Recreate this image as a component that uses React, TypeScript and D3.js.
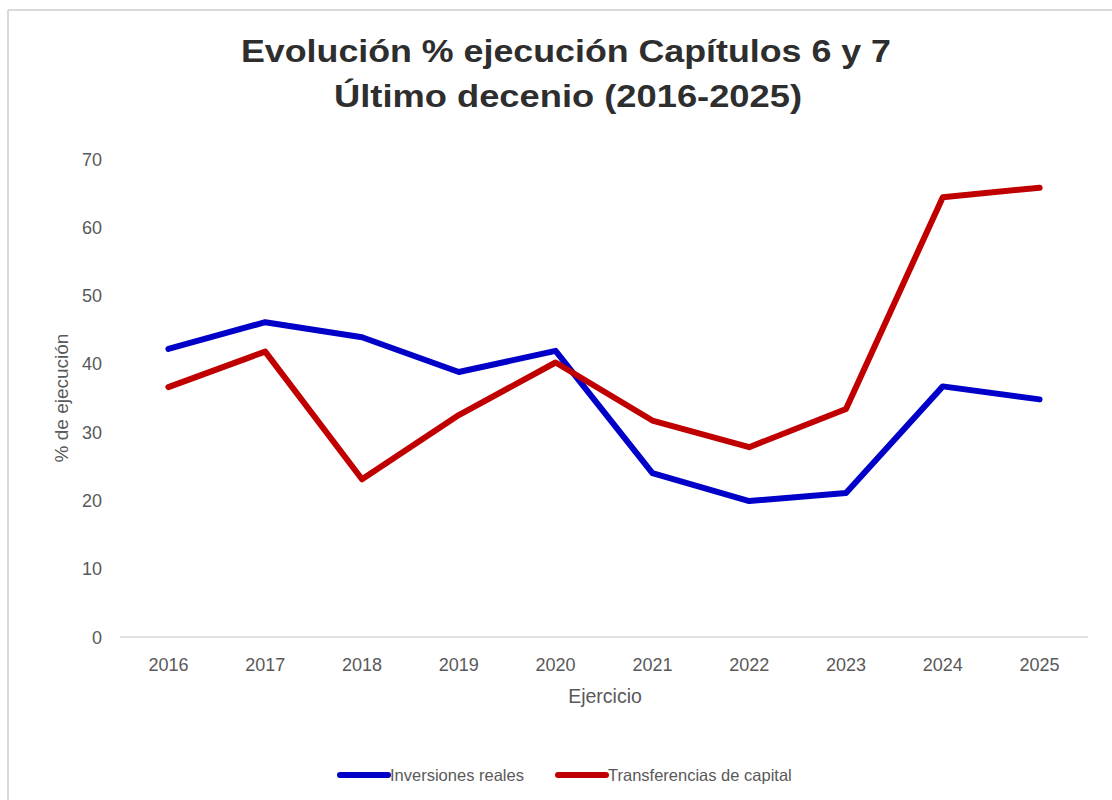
import React from 'react'
import * as d3 from 'd3'

const years = ['2016', '2017', '2018', '2019', '2020', '2021', '2022', '2023', '2024', '2025']
const inversionesReales = [42.2, 46.1, 43.9, 38.8, 41.9, 24.0, 19.9, 21.1, 36.7, 34.8]
const transferenciasCapital = [36.6, 41.8, 23.1, 32.5, 40.2, 31.7, 27.8, 33.4, 64.4, 65.8]
const yTicks = [0, 10, 20, 30, 40, 50, 60, 70]
const seriesNames = ['Inversiones reales', 'Transferencias de capital']

const WIDTH = 1112
const HEIGHT = 800
const plot = { left: 120, right: 1088, top: 159, bottom: 637 }
const colors = ['#0000c8', '#c00000']
const grey = '#595959'
const font = '"Liberation Sans", Arial, sans-serif'

const App = () => {
    const xScale = d3.scaleBand().domain(years).range([plot.left, plot.right])
    const bw = xScale.bandwidth()
    const yScale = d3.scaleLinear().domain([0, 70]).range([plot.bottom, plot.top])

    const line = d3
        .line<number>()
        .x((d, i) => (xScale(years[i]) as number) + bw / 2)
        .y(d => yScale(d))

    const series = [inversionesReales, transferenciasCapital]

    // leyenda
    const legend = [
        { x: 340, name: seriesNames[0], color: colors[0] },
        { x: 558, name: seriesNames[1], color: colors[1] },
    ]

    return (
        <svg width={WIDTH} height={HEIGHT} style={{ position: 'absolute', left: 0, top: 0, background: '#fff' }}>
            <rect x={0} y={0} width={WIDTH} height={HEIGHT} fill="#fff" />
            {/* marco */}
            <line x1={8} y1={10} x2={WIDTH} y2={10} stroke="#d9d9d9" strokeWidth={2} />
            <line x1={8} y1={10} x2={8} y2={HEIGHT} stroke="#d9d9d9" strokeWidth={2} />

            {/* título */}
            <g fontFamily={font} fontWeight="bold" fontSize={31} fill="#2e2e2e" textAnchor="middle">
                <text x={566} y={62} textLength={650} lengthAdjust="spacingAndGlyphs">
                    Evolución % ejecución Capítulos 6 y 7
                </text>
                <text x={568} y={107} textLength={468} lengthAdjust="spacingAndGlyphs">
                    Último decenio (2016-2025)
                </text>
            </g>

            {/* eje x */}
            <line x1={plot.left} y1={plot.bottom} x2={plot.right} y2={plot.bottom} stroke="#d9d9d9" strokeWidth={1.5} />
            <g fontFamily={font} fontSize={18} fill={grey} textAnchor="middle">
                {years.map(yr => (
                    <text key={yr} x={(xScale(yr) as number) + bw / 2} y={671}>
                        {yr}
                    </text>
                ))}
            </g>
            <text x={605} y={703} fontFamily={font} fontSize={19.5} fill={grey} textAnchor="middle">
                Ejercicio
            </text>

            {/* eje y */}
            <g fontFamily={font} fontSize={18} fill={grey} textAnchor="end">
                {yTicks.map(t => (
                    <text key={t} x={102} y={yScale(t) + 6.5}>
                        {t}
                    </text>
                ))}
            </g>
            <text
                transform="translate(68,398) rotate(-90)"
                fontFamily={font}
                fontSize={19}
                fill={grey}
                textAnchor="middle"
            >
                % de ejecución
            </text>

            {/* datos */}
            <g fill="none" strokeWidth={6} strokeLinecap="round" strokeLinejoin="round">
                {series.map((s, i) => (
                    <path key={i} d={line(s) || ''} stroke={colors[i]} />
                ))}
            </g>

            {/* leyenda */}
            <g fontFamily={font} fontSize={16.5} fill={grey}>
                {legend.map(l => (
                    <g key={l.name}>
                        <line x1={l.x} y1={775} x2={l.x + 48} y2={775} stroke={l.color} strokeWidth={6} strokeLinecap="round" />
                        <text x={l.x + 50} y={781}>
                            {l.name}
                        </text>
                    </g>
                ))}
            </g>
        </svg>
    )
}

export default App
